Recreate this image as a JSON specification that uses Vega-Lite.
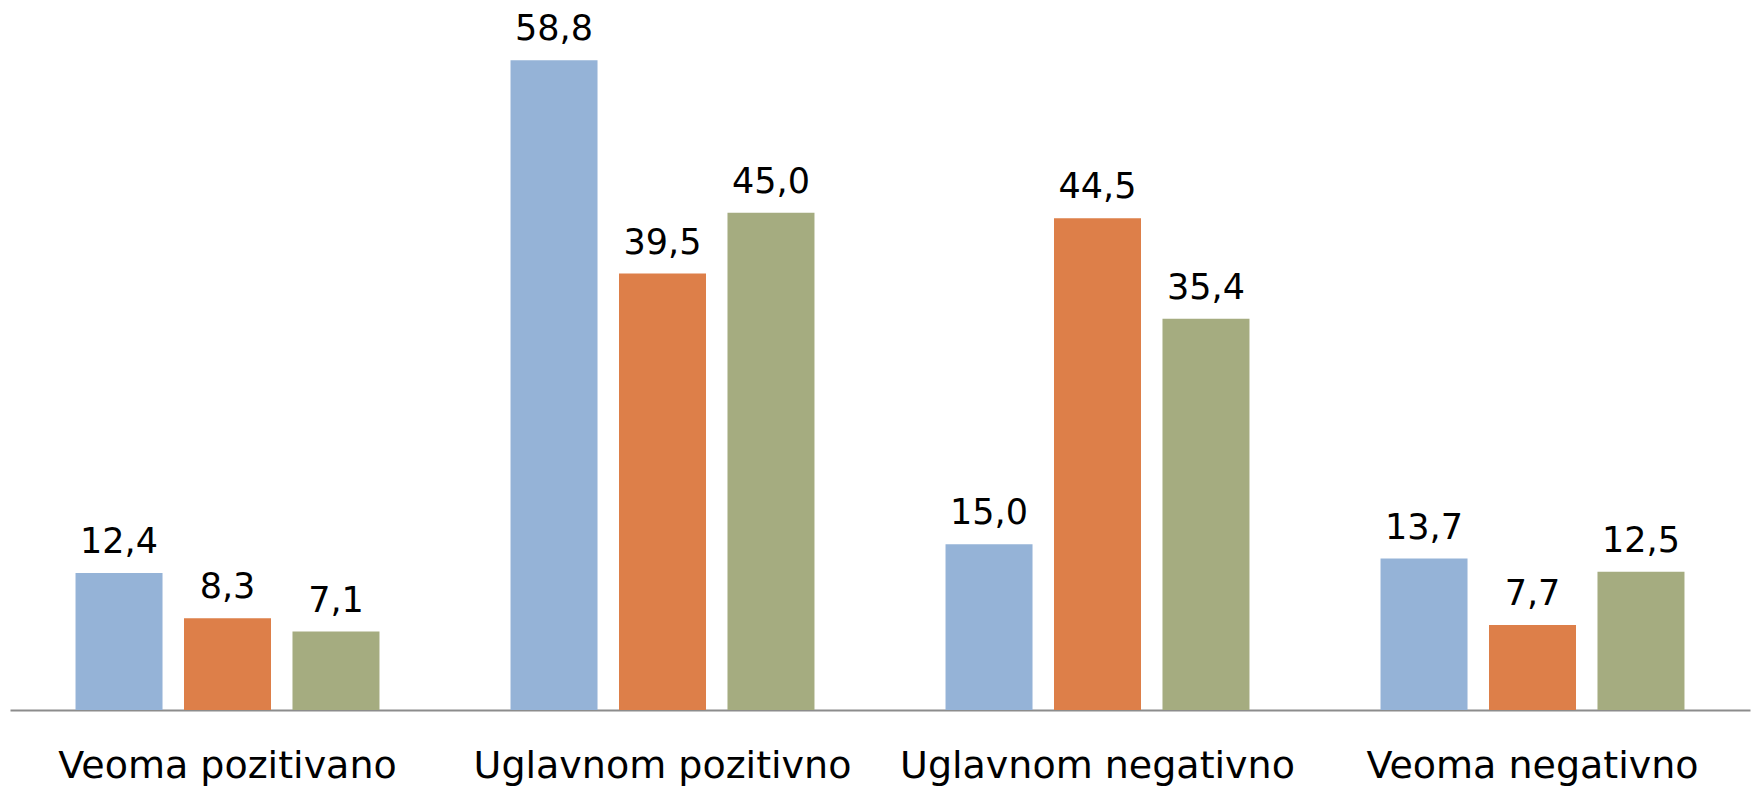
{
  "$schema": "https://vega.github.io/schema/vega-lite/v6.json",
  "width": 1740,
  "height": 710,
  "autosize": {"type": "none"},
  "padding": {"left": 10, "top": 0, "right": 6, "bottom": 79},
  "background": "white",
  "config": {
    "view": {"stroke": null},
    "locale": {"number": {"decimal": ",", "thousands": ".", "grouping": [3], "currency": ["", " €"]}},
    "font": "DejaVu Sans"
  },
  "data": {
    "values": [
      {"kategorija": "Veoma pozitivano", "serija": "1", "vrijednost": 12.4},
      {"kategorija": "Veoma pozitivano", "serija": "2", "vrijednost": 8.3},
      {"kategorija": "Veoma pozitivano", "serija": "3", "vrijednost": 7.1},
      {"kategorija": "Uglavnom pozitivno", "serija": "1", "vrijednost": 58.8},
      {"kategorija": "Uglavnom pozitivno", "serija": "2", "vrijednost": 39.5},
      {"kategorija": "Uglavnom pozitivno", "serija": "3", "vrijednost": 45.0},
      {"kategorija": "Uglavnom negativno", "serija": "1", "vrijednost": 15.0},
      {"kategorija": "Uglavnom negativno", "serija": "2", "vrijednost": 44.5},
      {"kategorija": "Uglavnom negativno", "serija": "3", "vrijednost": 35.4},
      {"kategorija": "Veoma negativno", "serija": "1", "vrijednost": 13.7},
      {"kategorija": "Veoma negativno", "serija": "2", "vrijednost": 7.7},
      {"kategorija": "Veoma negativno", "serija": "3", "vrijednost": 12.5}
    ]
  },
  "encoding": {
    "x": {
      "field": "kategorija",
      "type": "nominal",
      "sort": null,
      "scale": {"paddingInner": 0, "paddingOuter": 0},
      "axis": {
        "title": null,
        "labelAngle": 0,
        "ticks": false,
        "domainColor": "#8c8c8c",
        "domainWidth": 2,
        "labelFontSize": 38,
        "labelColor": "#000000",
        "labelBaseline": "alphabetic",
        "labelPadding": 67,
        "labelLimit": 0,
        "labelFont": "DejaVu Sans"
      }
    },
    "xOffset": {
      "field": "serija",
      "type": "nominal",
      "scale": {"paddingInner": 0.198, "paddingOuter": 0.604}
    },
    "y": {
      "field": "vrijednost",
      "type": "quantitative",
      "scale": {"domain": [0, 64.25], "nice": false, "zero": true},
      "axis": null
    }
  },
  "layer": [
    {
      "mark": {"type": "bar"},
      "encoding": {
        "color": {
          "field": "serija",
          "type": "nominal",
          "scale": {"domain": ["1", "2", "3"], "range": ["#95B3D7", "#DD7F49", "#A5AC80"]},
          "legend": null
        }
      }
    },
    {
      "mark": {"type": "text", "baseline": "alphabetic", "dy": -20, "fontSize": 35, "color": "#000000", "font": "DejaVu Sans"},
      "encoding": {
        "text": {"field": "vrijednost", "type": "quantitative", "format": ".1f"}
      }
    }
  ]
}
